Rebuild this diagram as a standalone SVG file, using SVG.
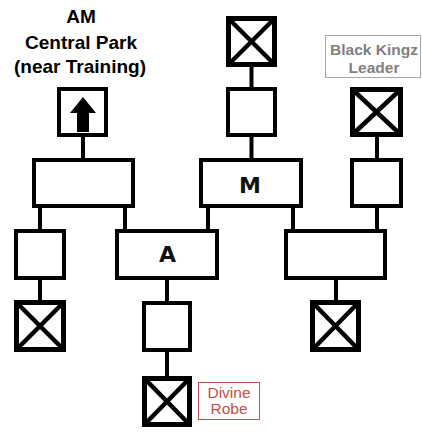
<svg xmlns="http://www.w3.org/2000/svg" width="422" height="432" viewBox="0 0 422 432">
<style>
.box{fill:#fff;stroke:#000;stroke-width:4}
.xbox{fill:#fff;stroke:#000;stroke-width:5}
.xl{stroke:#000;stroke-width:4.5}
.conn line{stroke:#000;stroke-width:4}
.cap{font-family:"Liberation Sans",Arial,sans-serif;font-weight:bold;font-size:19px;fill:#000;text-anchor:middle}
.big{font-family:"DejaVu Sans",sans-serif;font-weight:bold;font-size:22px;fill:#111;text-anchor:middle}
.bk{font-family:"Liberation Sans",Arial,sans-serif;font-weight:bold;font-size:15.5px;fill:#7f7f7f;text-anchor:middle}
.dr{font-family:"Liberation Sans",Arial,sans-serif;font-size:15.5px;fill:#c0504d;text-anchor:middle}
</style>
<rect width="422" height="432" fill="#fff"/>
<g id="connectors" class="conn">
<line x1="83" y1="136" x2="83" y2="159"/>
<line x1="251.5" y1="66" x2="251.5" y2="88"/>
<line x1="251.5" y1="136" x2="251.5" y2="159"/>
<line x1="377" y1="136" x2="377" y2="159"/>
<line x1="40" y1="207" x2="40" y2="230"/>
<line x1="125" y1="207" x2="125" y2="230"/>
<line x1="208" y1="207" x2="208" y2="230"/>
<line x1="293" y1="207" x2="293" y2="230"/>
<line x1="377" y1="207" x2="377" y2="230"/>
<line x1="40" y1="279" x2="40" y2="301"/>
<line x1="167" y1="279" x2="167" y2="302"/>
<line x1="336" y1="279" x2="336" y2="301"/>
<line x1="167" y1="351" x2="167" y2="377"/>
</g>
<g id="label-am">
<text class="cap" x="81" y="23">AM</text>
<text class="cap" x="81" y="49">Central Park</text>
<text class="cap" x="80" y="73">(near Training)</text>
</g>
<g id="node-arrow">
<rect class="box" x="59" y="89" width="47" height="46"/>
<polygon points="83,97 70,113 77,113 77,132 89,132 89,113 96,113" fill="#000"/>
</g>
<g id="node-left-big"><rect class="box" x="34" y="160" width="99" height="46"/></g>
<g id="node-m-x">
<rect class="xbox" x="228.5" y="18.5" width="46" height="46"/>
<line class="xl" x1="228.5" y1="18.5" x2="274.5" y2="64.5"/>
<line class="xl" x1="274.5" y1="18.5" x2="228.5" y2="64.5"/>
</g>
<g id="node-m-small"><rect class="box" x="228" y="89" width="47" height="46"/></g>
<g id="node-m">
<rect class="box" x="201" y="160" width="100" height="46"/>
<text class="big" x="250" y="193">M</text>
</g>
<g id="label-bk">
<rect x="325.5" y="35.5" width="95" height="42" fill="#fff" stroke="#a6a6a6" stroke-width="1"/>
<text class="bk" x="374" y="55">Black Kingz</text>
<text class="bk" x="374" y="73">Leader</text>
</g>
<g id="node-bk-x">
<rect class="xbox" x="352.5" y="89.5" width="48" height="45"/>
<line class="xl" x1="352.5" y1="89.5" x2="400.5" y2="134.5"/>
<line class="xl" x1="400.5" y1="89.5" x2="352.5" y2="134.5"/>
</g>
<g id="node-right-small"><rect class="box" x="352" y="160" width="49" height="46"/></g>
<g id="node-left-small"><rect class="box" x="16" y="231" width="48" height="47"/></g>
<g id="node-a">
<rect class="box" x="117" y="231" width="100" height="47"/>
<text class="big" x="167.5" y="262">A</text>
</g>
<g id="node-right-bottom"><rect class="box" x="286" y="231" width="99" height="47"/></g>
<g id="node-left-x">
<rect class="xbox" x="16.5" y="302.5" width="47" height="47"/>
<line class="xl" x1="16.5" y1="302.5" x2="63.5" y2="349.5"/>
<line class="xl" x1="63.5" y1="302.5" x2="16.5" y2="349.5"/>
</g>
<g id="node-a-small"><rect class="box" x="144" y="303" width="46" height="47"/></g>
<g id="node-right-x">
<rect class="xbox" x="312.5" y="302.5" width="46" height="47"/>
<line class="xl" x1="312.5" y1="302.5" x2="358.5" y2="349.5"/>
<line class="xl" x1="358.5" y1="302.5" x2="312.5" y2="349.5"/>
</g>
<g id="node-bottom-x">
<rect class="xbox" x="144.5" y="378.5" width="45" height="46"/>
<line class="xl" x1="144.5" y1="378.5" x2="189.5" y2="424.5"/>
<line class="xl" x1="189.5" y1="378.5" x2="144.5" y2="424.5"/>
</g>
<g id="label-dr">
<rect x="198.5" y="382.5" width="61" height="37" fill="#fff" stroke="#c0504d" stroke-width="1"/>
<text class="dr" x="229" y="398">Divine</text>
<text class="dr" x="229" y="414">Robe</text>
</g>
</svg>
